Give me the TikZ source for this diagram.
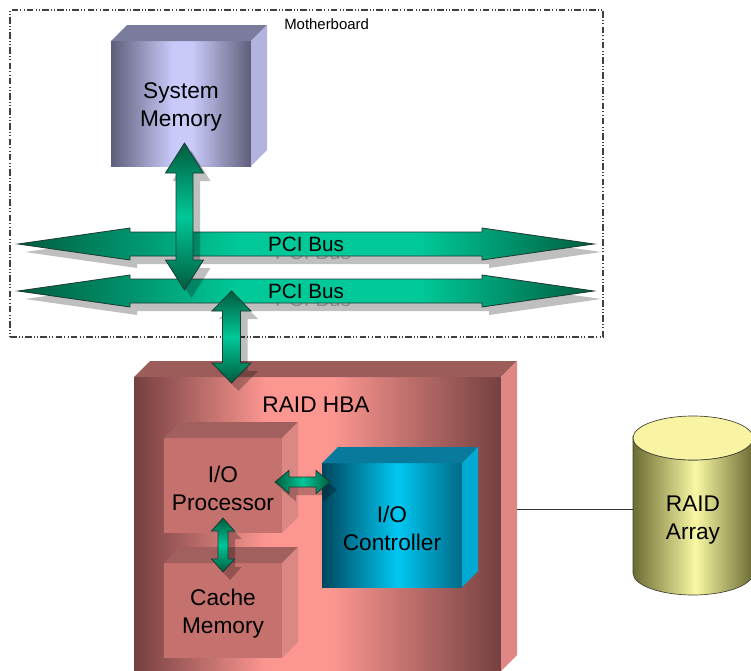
\documentclass[tikz,border=0pt]{standalone}
\usepackage{fontspec}
\setmainfont{Liberation Sans}
\usetikzlibrary{calc}

% palette
\definecolor{gdark}{HTML}{005C3E}
\definecolor{glight}{HTML}{00C898}
\definecolor{gline}{HTML}{1E3A32}
\definecolor{memdark}{HTML}{5E5E7A}
\definecolor{memlight}{HTML}{CACAFA}
\definecolor{memtopc}{HTML}{7B7B9E}
\definecolor{memsidec}{HTML}{B3B3DF}
\definecolor{hbadark}{HTML}{744040}
\definecolor{hbalight}{HTML}{FC9690}
\definecolor{hbatopc}{HTML}{9C5C5A}
\definecolor{hbasidec}{HTML}{E08684}
\definecolor{subfrontc}{HTML}{C5716D}
\definecolor{subtopc}{HTML}{A1605D}
\definecolor{subsidec}{HTML}{DB8783}
\definecolor{ctldark}{HTML}{00465E}
\definecolor{ctllight}{HTML}{00C8F2}
\definecolor{ctlright}{HTML}{006A88}
\definecolor{ctltopc}{HTML}{0A7A9C}
\definecolor{ctlsidec}{HTML}{00AAD2}
\definecolor{cyldark}{HTML}{6C6C34}
\definecolor{cyllight}{HTML}{F8F8A4}
\definecolor{cyltopc}{HTML}{F8F4A4}
\definecolor{cylline}{HTML}{404030}
\definecolor{mbline}{HTML}{404040}

% left-to-right shadings (the path is mapped onto 25bp..75bp)
\pgfdeclarehorizontalshading{busshade}{100bp}{color(0bp)=(gdark); color(25bp)=(gdark); color(44bp)=(glight); color(60bp)=(glight); color(75bp)=(gdark); color(100bp)=(gdark)}
\pgfdeclarehorizontalshading{memshade}{100bp}{color(0bp)=(memdark); color(25bp)=(memdark); color(47bp)=(memlight); color(54bp)=(memlight); color(75bp)=(memdark); color(100bp)=(memdark)}
\pgfdeclarehorizontalshading{hbashade}{100bp}{color(0bp)=(hbadark); color(25bp)=(hbadark); color(43bp)=(hbalight); color(52bp)=(hbalight); color(75bp)=(hbadark); color(100bp)=(hbadark)}
\pgfdeclarehorizontalshading{ctlshade}{100bp}{color(0bp)=(ctldark); color(25bp)=(ctldark); color(52bp)=(ctllight); color(75bp)=(ctlright); color(100bp)=(ctlright)}
\pgfdeclarehorizontalshading{cylshade}{100bp}{color(0bp)=(cyldark); color(25bp)=(cyldark); color(51bp)=(cyllight); color(75bp)=(cyldark); color(100bp)=(cyldark)}

\tikzset{
  biglabel/.style={font=\fontsize{17}{21}\selectfont, align=center, text=black},
  buslabel/.style={font=\fontsize{15.5}{18}\selectfont, text=black},
  memfront/.style={shade, shading=memshade},
  memtop/.style={fill=memtopc},
  memside/.style={fill=memsidec},
  hbafront/.style={shade, shading=hbashade},
  hbatop/.style={fill=hbatopc},
  hbaside/.style={fill=hbasidec},
  subfront/.style={fill=subfrontc},
  subtop/.style={fill=subtopc},
  subside/.style={fill=subsidec},
  ctlfront/.style={shade, shading=ctlshade},
  ctltop/.style={fill=ctltopc},
  ctlside/.style={fill=ctlsidec},
  arrowshadow/.style={fill=black, opacity=0.25, transform canvas={shift={(7,8)}}},
  busbody/.style={shade, shading=busshade, draw=gline, line width=0.6pt},
  varrow/.style={top color=gdark, bottom color=gdark, middle color=glight, draw=gline, line width=0.6pt},
  harrow/.style={left color=gdark, right color=gdark, middle color=glight, draw=gline, line width=0.6pt},
  mbbox/.style={draw=mbline, line width=0.8pt, dash pattern=on 5pt off 1.6pt on 0.8pt off 1.6pt on 0.8pt off 1.6pt},
}

% box with a shaded front face (named node), a top face and a right face
% #1 name, #2 #3 centre, #4 #5 size, #6 palette, #7 text
\newcommand\drawcube[7]{%
  \node[#6front, inner sep=0pt, outer sep=0pt, minimum width=#4*0.75pt, minimum height=#5*0.75pt] (#1) at (#2,#3) {};
  \fill[#6top] (#1.north west) -- (#1.north east) -- ++(16,-16) -- ([shift={(16,-16)}]#1.north west) -- cycle;
  \fill[#6side] (#1.north east) -- ++(16,-16) -- ([shift={(16,-16)}]#1.south east) -- (#1.south east) -- cycle;
  \node[biglabel] (#1-text) at ([shift={(0,3)}]#1.center) {#7};
}

% outline of a horizontal two-headed block arrow: tips #1 and #2,
% head length #3, head half height #4, shaft half height #5
\newcommand\hdpath[5]{(#1) -- ($(#1)+(#3,-#4)$) -- ($(#1)+(#3,-#5)$) -- ($(#2)+(-#3,-#5)$) -- ($(#2)+(-#3,-#4)$) -- (#2) -- ($(#2)+(-#3,#4)$) -- ($(#2)+(-#3,#5)$) -- ($(#1)+(#3,#5)$) -- ($(#1)+(#3,#4)$) -- cycle}
% the same, vertical: top tip #1, bottom tip #2
\newcommand\vdpath[5]{(#1) -- ($(#1)+(#4,#3)$) -- ($(#1)+(#5,#3)$) -- ($(#2)+(#5,-#3)$) -- ($(#2)+(#4,-#3)$) -- (#2) -- ($(#2)+(-#4,-#3)$) -- ($(#2)+(-#5,-#3)$) -- ($(#1)+(-#5,#3)$) -- ($(#1)+(-#4,#3)$) -- cycle}

\begin{document}
\begin{tikzpicture}[x=0.75pt, y=-0.75pt]
\useasboundingbox (0,0) rectangle (751,671);
\clip (0,0) rectangle (751,671);

% motherboard frame
\node[mbbox, inner sep=0pt, outer sep=0pt, minimum width=593*0.75pt, minimum height=327*0.75pt] (mb) at (306.5,173.5) {};
\node[font=\fontsize{11.2}{13}\selectfont, anchor=west, inner sep=0pt] (mblabel) at (284,24) {Motherboard};

% system memory
\drawcube{mem}{181}{103.5}{140}{125}{mem}{System\\Memory}

% PCI buses
\coordinate (b1l) at (18,244);
\coordinate (b1r) at (594,244);
\coordinate (b2l) at (18,291);
\coordinate (b2r) at (594,291);

\fill[arrowshadow] \hdpath{b1l}{b1r}{112}{16}{12};
\node[buslabel, text=black!45] at ($(b1l)!0.5!(b1r)+(7,8)$) {PCI Bus};
\path[busbody] \hdpath{b1l}{b1r}{112}{16}{12};
\node[buslabel] (bus1) at ($(b1l)!0.5!(b1r)$) {PCI Bus};

\fill[arrowshadow] \hdpath{b2l}{b2r}{112}{16}{12};
\node[buslabel, text=black!45] at ($(b2l)!0.5!(b2r)+(7,8)$) {PCI Bus};
\path[busbody] \hdpath{b2l}{b2r}{112}{16}{12};
\node[buslabel] (bus2) at ($(b2l)!0.5!(b2r)$) {PCI Bus};

% memory <-> bus
\coordinate (m1) at (184.5,143);
\coordinate (m2) at (184.5,290);
\fill[arrowshadow] \vdpath{m1}{m2}{30}{19}{8.5};
\path[varrow] \vdpath{m1}{m2}{30}{19}{8.5};

% RAID host bus adapter
\drawcube{hba}{317.5}{524}{367}{294}{hba}{}
\node[biglabel] (hbalabel) at (316,405) {RAID HBA};

% bus <-> HBA
\coordinate (h1) at (231.5,291);
\coordinate (h2) at (231.5,383);
\fill[arrowshadow] \vdpath{h1}{h2}{20}{19.5}{9};
\path[varrow] \vdpath{h1}{h2}{20}{19.5}{9};

% parts of the adapter
\drawcube{proc}{223}{485.5}{118}{95}{sub}{I/O\\Processor}
\drawcube{cache}{223}{610.5}{118}{95}{sub}{Cache\\Memory}
\drawcube{ctrl}{392}{525}{140}{124}{ctl}{I/O\\Controller}

% processor <-> controller
\coordinate (p1) at (275,482);
\coordinate (p2) at (330,482);
\fill[arrowshadow] \hdpath{p1}{p2}{14}{11.5}{5};
\path[harrow] \hdpath{p1}{p2}{14}{11.5}{5};

% processor <-> cache
\coordinate (c1) at (223,518);
\coordinate (c2) at (223,572);
\fill[arrowshadow] \vdpath{c1}{c2}{13}{11.5}{5};
\path[varrow] \vdpath{c1}{c2}{13}{11.5}{5};

% disk array
\path[shade, shading=cylshade, draw=cylline, line width=0.5pt]
  (633,438) -- (633,573) arc[start angle=180, end angle=0, x radius=60, y radius=22]
  -- (753,438) arc[start angle=0, end angle=180, x radius=60, y radius=22] -- cycle;
\path[fill=cyltopc, draw=cylline, line width=0.5pt] (693,438) ellipse[x radius=60, y radius=22];
\node[biglabel, inner sep=0pt, outer sep=0pt, minimum width=120*0.75pt] (array) at (693,520) {RAID\\Array};

% HBA to array link
\coordinate (hbaport) at (517,509);
\draw[line width=0.6pt, black!80] (hbaport) -- (hbaport -| array.west);
\end{tikzpicture}
\end{document}
